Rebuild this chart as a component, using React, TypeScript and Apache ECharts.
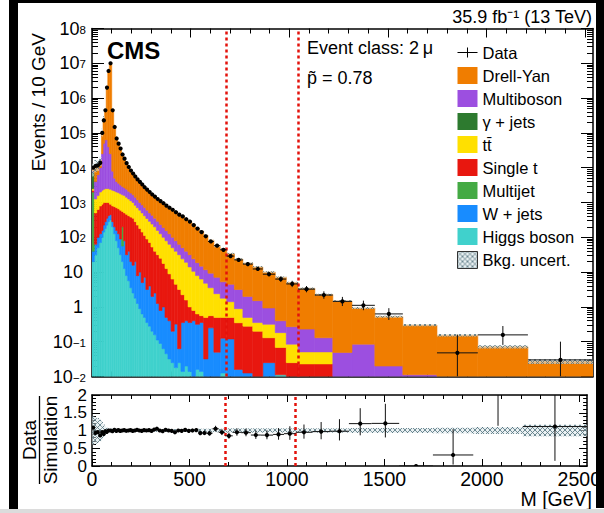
import React, { useEffect, useRef } from "react";
import * as echarts from "echarts";

const FONT = '"Liberation Sans", Arial, Helvetica, sans-serif';

// Bin edges in GeV
const binEdges = [0, 12, 24, 36, 48, 56, 64, 72, 80, 88, 100, 110, 120, 130, 140, 150, 160, 170, 181, 192, 203, 214, 225, 237, 249, 261, 273, 286, 299, 312, 326, 340, 355, 370, 385, 401, 417, 434, 451, 469, 487, 506, 525, 545, 566, 588, 618, 650, 683, 722, 765, 815, 866, 929, 985, 1045, 1130, 1221, 1318, 1434, 1576, 1749, 1956, 2210, 2540];

// Observed events / 10 GeV
const dataValues = [1.0e4, 1.12e4, 1.17e4, 1.38e4, 1.0e5, 2.29e5, 4.47e5, 2.0e6, 6.03e6, 1.0e7,
  4.47e5, 1.48e5, 6.92e4, 4.9e4, 3.55e4, 2.4e4, 1.82e4, 1.35e4, 1.05e4, 8.3e3,
  6.8e3, 5.6e3, 4.6e3, 3.9e3, 3.3e3, 2.75e3, 2.35e3, 2.0e3, 1.7e3, 1.48e3,
  1.26e3, 1.1e3, 955, 813, 708, 617, 525, 447, 398, 331,
  282, 224, 178, 141, 107, 75.9, 57.5, 43.7, 28.8, 22.4,
  17.0, 12.3, 8.7, 6.3, 4.57, 3.24, 2.19, 1.44, 1.11, 0.629,
  0, 0.0478, 0.157, 0.030];

// Stack levels (cumulative height reached by each process, bottom -> top)
const higgsTop = [20, 31.6, 50, 70.8, 100, 141, 178, 224, 282, 316,
  200, 126, 79.4, 50, 31.6, 20, 12.6, 7.94, 5.62, 3.55,
  2.51, 1.78, 1.26, 0.89, 0.63, 0.5, 0.355, 0.28, 0.2, 0.158,
  0.112, 0.089, 0.063, 0.045, 0.032, 0.025, 0.018, 0.025, 0.014, 0.02,
  0.014, 0, 0.016, 0.014, 0, 0, 0, 0.0126, 0, 0,
  0, 0, 0, 0.0112, 0, 0, 0, 0, 0, 0,
  0, 0, 0, 0];
const wJetsTop = [40, 63, 100, 126, 158, 224, 282, 355, 417, 447,
  282, 200, 158, 126, 89, 56, 79, 31.6, 39.8, 20,
  15.8, 20, 7.9, 10, 5.0, 7.1, 3.16, 4.0, 2.0, 2.5,
  1.26, 0.79, 1.0, 0.5, 0.4, 0.2, 0.32, 0.063, 0.355, 0.4,
  0.355, 0.4, 0.316, 0.355, 0.032, 0.25, 0.05, 0.126, 0.12, 0.016,
  0.0126, 0, 0.025, 0, 0, 0, 0, 0, 0, 0,
  0, 0, 0, 0];
const multijetTop = [2.0e3, 63, 100, 126, 158, 224, 282, 355, 417, 447,
  282, 200, 158, 126, 89, 200, 79, 31.6, 39.8, 20,
  15.8, 20, 7.9, 10, 5.0, 7.1, 3.16, 4.0, 2.0, 2.5,
  1.26, 0.79, 1.0, 0.5, 0.4, 0.2, 0.32, 0.063, 0.355, 0.4,
  0.355, 0.4, 0.316, 0.355, 0.032, 0.25, 0.05, 0.126, 0.12, 0.016,
  0.0126, 0, 0.025, 0, 0, 0, 0, 0, 0, 0,
  0, 0, 0, 0];
const singleTopTop = [2.2e3, 501, 631, 794, 891, 1000, 1000, 1000, 1000, 891,
  794, 759, 708, 661, 603, 550, 501, 457, 417, 380,
  355, 282, 224, 178, 141, 112, 89.1, 70.8, 52.5, 39.8,
  31.6, 25.1, 17.8, 12.6, 8.91, 6.31, 4.47, 3.16, 2.24, 1.58,
  1.0, 0.79, 0.63, 0.56, 0.5, 0.56, 0.5, 0.5, 0.5, 0.35,
  0.28, 0.2, 0.13, 0.068, 0.025, 0.023, 0.023, 0, 0, 0,
  0, 0, 0, 0];
const ttbarTop = [2.5e3, 1.26e3, 1.58e3, 2.0e3, 2.24e3, 2.4e3, 2.51e3, 2.51e3, 2.51e3, 2.4e3,
  2.24e3, 2.14e3, 2.0e3, 1.91e3, 1.78e3, 1.66e3, 1.58e3, 1.41e3, 1.26e3, 1.12e3,
  1.0e3, 832, 708, 603, 501, 417, 347, 288, 240, 200,
  158, 126, 100, 79.4, 63.1, 50.1, 39.8, 31.6, 24.0, 19.1,
  14.1, 10.5, 7.94, 6.31, 4.79, 3.55, 2.4, 1.78, 1.41, 0.89,
  0.5, 0.355, 0.316, 0.182, 0.085, 0.051, 0.051, 0, 0, 0,
  0, 0, 0, 0];
const gammaJetsTop = [7.5e3, 1.26e3, 1.58e3, 2.0e3, 2.24e3, 2.4e3, 2.51e3, 2.51e3, 2.51e3, 2.4e3,
  2.24e3, 2.14e3, 2.0e3, 1.91e3, 1.78e3, 1.66e3, 1.58e3, 1.41e3, 1.26e3, 1.12e3,
  1.0e3, 832, 708, 603, 501, 417, 347, 288, 240, 200,
  158, 126, 100, 79.4, 63.1, 50.1, 39.8, 31.6, 24.0, 19.1,
  14.1, 10.5, 7.94, 6.31, 4.79, 3.55, 2.4, 1.78, 1.41, 0.89,
  0.5, 0.355, 0.316, 0.182, 0.085, 0.051, 0.051, 0, 0, 0,
  0, 0, 0, 0];
const multibosonTop = [8.0e3, 3.98e3, 6.31e3, 1.0e4, 2.51e4, 5.01e4, 6.31e4, 6.31e4, 3.98e4, 2.51e4,
  7.94e3, 5.01e3, 3.98e3, 3.55e3, 3.16e3, 2.88e3, 2.63e3, 2.4e3, 2.09e3, 1.86e3,
  1.66e3, 1.41e3, 1.2e3, 1.0e3, 851, 724, 603, 501, 427, 355,
  288, 234, 191, 155, 126, 100, 79.4, 63.1, 50.1, 39.8,
  31.6, 24.0, 18.6, 14.8, 11.7, 9.33, 7.08, 5.25, 4.47, 3.16,
  2.0, 1.51, 0.93, 0.40, 0.27, 0.23, 0.13, 0.049, 0.085, 0.02,
  0.0112, 0, 0, 0];
const drellYanTop = [9.26e3, 1.2e4, 1.23e4, 1.6e4, 1.05e5, 2.54e5, 4.56e5, 2.08e6, 6.03e6, 1.0e7,
  4.56e5, 1.45e5, 6.99e4, 4.85e4, 3.59e4, 2.4e4, 1.8e4, 1.36e4, 1.05e4, 8.22e3,
  6.87e3, 5.6e3, 4.51e3, 3.9e3, 3.33e3, 2.72e3, 2.35e3, 1.98e3, 1.72e3, 1.44e3,
  1.2e3, 1.1e3, 974, 797, 708, 623, 553, 447, 402, 325,
  285, 224, 176, 152, 115, 82.5, 54.8, 46.0, 33.9, 23.6,
  18.1, 14.1, 10.0, 7.08, 5.02, 3.41, 2.26, 1.47, 0.93, 0.524,
  0.30, 0.154, 0.0714, 0.027];

// Relative background uncertainty per bin
const bkgRelUnc = [0.4, 0.38, 0.35, 0.3, 0.25, 0.18, 0.12, 0.08, 0.06, 0.05,
  0.06, 0.05, 0.04, 0.04, 0.04, 0.04, 0.04, 0.04, 0.04, 0.04,
  0.04, 0.04, 0.04, 0.04, 0.04, 0.04, 0.04, 0.04, 0.04, 0.04,
  0.04, 0.04, 0.04, 0.04, 0.04, 0.04, 0.04, 0.04, 0.04, 0.04,
  0.04, 0.04, 0.04, 0.05, 0.05, 0.05, 0.05, 0.05, 0.06, 0.06,
  0.06, 0.06, 0.06, 0.06, 0.06, 0.06, 0.06, 0.06, 0.07, 0.07,
  0.07, 0.08, 0.1, 0.16];

const roiEdges = [683, 1045];
const xMajorTicks = [0, 500, 1000, 1500, 2000, 2500];
const xMinorTicks = [100, 200, 300, 400, 600, 700, 800, 900, 1100, 1200, 1300, 1400, 1600, 1700, 1800, 1900, 2100, 2200, 2300, 2400];
const yMajorTicks = [1e-2, 1e-1, 1, 10, 100, 1e3, 1e4, 1e5, 1e6, 1e7, 1e8];
const yMinorTicks: number[] = [];
for (let e = -2; e < 8; e++) for (let k = 2; k <= 9; k++) yMinorTicks.push(k * Math.pow(10, e));

const processes = [
  { name: "Higgs boson", color: "#40d1cc", top: higgsTop },
  { name: "W + jets", color: "#188cff", top: wJetsTop },
  { name: "Multijet", color: "#44aa44", top: multijetTop },
  { name: "Single t", color: "#e8170f", top: singleTopTop },
  { name: "tt\u0304", color: "#ffe000", top: ttbarTop },
  { name: "\u03b3 + jets", color: "#2d7a2f", top: gammaJetsTop },
  { name: "Multiboson", color: "#9c4fe0", top: multibosonTop },
  { name: "Drell-Yan", color: "#f07d00", top: drellYanTop },
];

const XMAX = 2540;
const YMIN = 1e-2;

const garwoodUp = (n: number) => n + Math.sqrt(n + 0.75) + 1;
const garwoodLo = (n: number) => (n > 0.25 ? n - Math.sqrt(n - 0.25) : 0);

export default function App() {
  const ref = useRef<HTMLDivElement>(null);
  useEffect(() => {
    const chart = echarts.init(ref.current!, null, { renderer: "svg" });

    const cvs = document.createElement("canvas");
    cvs.width = 5;
    cvs.height = 5;
    const ctx = cvs.getContext("2d")!;
    ctx.fillStyle = "rgba(215,228,232,0.55)";
    ctx.fillRect(0, 0, 5, 5);
    ctx.strokeStyle = "rgba(90,120,130,0.95)";
    ctx.lineWidth = 0.9;
    ctx.beginPath();
    ctx.moveTo(0, 0); ctx.lineTo(5, 5);
    ctx.moveTo(5, 0); ctx.lineTo(0, 5);
    ctx.stroke();
    const hatch: any = { image: cvs, repeat: "repeat", imageWidth: 5, imageHeight: 5 };

    const nb = binEdges.length - 1;
    const idx = Array.from({ length: nb }, (_, i) => i);

    const levels: number[][] = [];
    processes.forEach((p, k) => {
      levels.push(p.top.map((v, i) => Math.max(v, k ? levels[k - 1][i] : 0)));
    });
    const total = levels[levels.length - 1];

    const rectRender = (fill: any, floor: number, stroke: string | null) => (params: any, api: any) => {
      const x0 = api.value(0), x1 = api.value(1);
      const lo = Math.max(api.value(2), floor), hi = api.value(3);
      if (!(hi > lo)) return null;
      const a = api.coord([x0, hi]);
      const b = api.coord([x1, lo]);
      return {
        type: "rect",
        shape: { x: a[0], y: a[1], width: b[0] - a[0], height: b[1] - a[1] },
        style: stroke ? { fill, stroke, lineWidth: 0.6 } : { fill, stroke: null },
      };
    };

    const pointRender = (floor: number) => (params: any, api: any) => {
      const x0 = api.value(0), x1 = api.value(1), v = api.value(2), lo = api.value(3), hi = api.value(4);
      if (!(v >= floor)) return null;
      const xm = (x0 + x1) / 2;
      const c = api.coord([xm, v]);
      const l = api.coord([x0, v]);
      const r = api.coord([x1, v]);
      const children: any[] = [
        { type: "line", shape: { x1: l[0], y1: c[1], x2: r[0], y2: c[1] }, style: { stroke: "#111", lineWidth: 1 } },
      ];
      if (hi > lo) {
        const t = api.coord([xm, hi]);
        const b = api.coord([xm, Math.max(lo, floor)]);
        children.push({ type: "line", shape: { x1: c[0], y1: t[1], x2: c[0], y2: b[1] }, style: { stroke: "#111", lineWidth: 1 } });
      }
      children.push({ type: "circle", shape: { cx: c[0], cy: c[1], r: 2.1 }, style: { fill: "#000" } });
      return { type: "group", children };
    };

    const stackSeries = processes.map((p, k) => ({
      type: "custom",
      name: p.name,
      xAxisIndex: 0,
      yAxisIndex: 0,
      clip: true,
      silent: true,
      z: 2,
      itemStyle: { color: p.color },
      encode: { x: [0, 1], y: [3] },
      data: idx.map((i) => [binEdges[i], binEdges[i + 1], k ? levels[k - 1][i] : 0, levels[k][i]]),
      renderItem: rectRender(p.color, YMIN, p.color),
    }));

    const bandMain = {
      type: "custom",
      name: "Bkg. uncert.",
      xAxisIndex: 0,
      yAxisIndex: 0,
      clip: true,
      silent: true,
      z: 3,
      itemStyle: { color: hatch, borderColor: "#444", borderWidth: 1 },
      encode: { x: [0, 1], y: [3] },
      data: idx.map((i) => [binEdges[i], binEdges[i + 1], total[i] * (1 - bkgRelUnc[i]), total[i] * (1 + bkgRelUnc[i])]),
      renderItem: rectRender(hatch, YMIN, null),
    };

    const mainRows = idx.map((i) => {
      const w = binEdges[i + 1] - binEdges[i];
      const v = dataValues[i];
      const n = (v * w) / 10;
      return [binEdges[i], binEdges[i + 1], v, (garwoodLo(n) * 10) / w, (garwoodUp(n) * 10) / w];
    });
    const ratioRows = idx.map((i) => {
      const row = mainRows[i];
      const t = total[i];
      if (dataValues[i] === 0) return [row[0], row[1], 0, 0, 0];
      return [row[0], row[1], row[2] / t, row[3] / t, row[4] / t];
    });

    const redLine = {
      silent: true,
      symbol: "none",
      label: { show: false },
      lineStyle: { color: "#e3120b", type: [3, 3], width: 2.5 },
      data: roiEdges.map((x) => ({ xAxis: x })),
    };

    const dataMain = {
      type: "custom",
      name: "Data",
      xAxisIndex: 0,
      yAxisIndex: 0,
      clip: true,
      silent: true,
      z: 5,
      itemStyle: { color: "#000" },
      encode: { x: [0, 1], y: [2] },
      data: mainRows.filter((r) => r[2] > 0),
      renderItem: pointRender(YMIN),
      markLine: redLine,
    };

    const bandRatio = {
      type: "custom",
      name: "ratioBand",
      xAxisIndex: 4,
      yAxisIndex: 4,
      clip: true,
      silent: true,
      z: 2,
      encode: { x: [0, 1], y: [3] },
      data: idx.map((i) => [binEdges[i], binEdges[i + 1], 1 - bkgRelUnc[i], 1 + bkgRelUnc[i]]),
      renderItem: rectRender(hatch, -10, null),
    };

    const dataRatio = {
      type: "custom",
      name: "ratio",
      xAxisIndex: 4,
      yAxisIndex: 4,
      clip: true,
      silent: true,
      z: 5,
      encode: { x: [0, 1], y: [2] },
      data: ratioRows,
      renderItem: pointRender(0),
      markLine: redLine,
    };

    const lineStyle = { color: "#000", width: 1.5 };
    const tickStyle = { color: "#000", width: 1 };

    const mkX = (grid: number, pos: string, ticks: number[], len: number, showLine: boolean, labels: boolean) => ({
      type: "value",
      gridIndex: grid,
      position: pos,
      min: 0,
      max: XMAX,
      axisLine: { show: showLine, onZero: false, lineStyle },
      axisTick: { show: true, inside: true, length: len, customValues: ticks, lineStyle: tickStyle },
      axisLabel: labels
        ? { show: true, customValues: ticks, fontSize: 19.5, fontFamily: FONT, color: "#000", margin: 3, formatter: (v: number) => String(v) }
        : { show: false },
      splitLine: { show: false },
    });

    const logFormatter = (v: number) => {
      const e = Math.round(Math.log10(v));
      if (e === 0) return "{p|1}";
      if (e === 1) return "{p|10}";
      return `{b|10}{s|${e < 0 ? "\u2212" + -e : e}}`;
    };

    const mkLogY = (pos: string, ticks: number[], len: number, showLine: boolean, labels: boolean) => ({
      type: "log",
      logBase: 10,
      gridIndex: 0,
      position: pos,
      min: YMIN,
      max: 1e8,
      axisLine: { show: showLine, onZero: false, lineStyle },
      axisTick: { show: true, inside: true, length: len, customValues: ticks, lineStyle: tickStyle },
      axisLabel: labels
        ? {
            show: true,
            customValues: ticks,
            formatter: logFormatter,
            margin: 6,
            color: "#000",
            rich: {
              p: { fontSize: 18, fontFamily: FONT, color: "#000", padding: [0, 3, 0, 0] },
              b: { fontSize: 18, lineHeight: 18, fontFamily: FONT, color: "#000", verticalAlign: "bottom" },
              s: { fontSize: 11.5, lineHeight: 12, fontFamily: FONT, color: "#000", verticalAlign: "top", padding: [4, 0, 10, 0] },
            },
          }
        : { show: false },
      splitLine: { show: false },
    });

    const mkRatioY = (pos: string, labels: boolean) => ({
      type: "value",
      gridIndex: 1,
      position: pos,
      min: 0,
      max: 2,
      interval: 0.5,
      axisLine: { show: true, onZero: false, lineStyle },
      axisTick: { show: true, inside: true, length: 8, lineStyle: tickStyle },
      minorTick: { show: true, splitNumber: 5, length: 4, lineStyle: tickStyle },
      axisLabel: labels
        ? { show: true, showMinLabel: true, showMaxLabel: true, hideOverlap: false, fontSize: 17, lineHeight: 17, fontFamily: FONT, color: "#000", margin: 5 }
        : { show: false },
      splitLine: { show: false },
      minorSplitLine: { show: false },
    });

    const option: any = {
      animation: false,
      backgroundColor: "#fff",
      grid: [
        { left: 92, top: 28.5, width: 501, height: 348 },
        { left: 92, top: 395, width: 501, height: 71 },
      ],
      xAxis: [
        mkX(0, "bottom", xMajorTicks, 9, true, false),
        mkX(0, "bottom", xMinorTicks, 5, false, false),
        mkX(0, "top", xMajorTicks, 9, true, false),
        mkX(0, "top", xMinorTicks, 5, false, false),
        mkX(1, "bottom", xMajorTicks, 7, true, true),
        mkX(1, "bottom", xMinorTicks, 4, false, false),
        mkX(1, "top", xMajorTicks, 7, true, false),
        mkX(1, "top", xMinorTicks, 4, false, false),
      ],
      yAxis: [
        mkLogY("left", yMajorTicks, 12, true, true),
        mkLogY("left", yMinorTicks, 6, false, false),
        mkLogY("right", yMajorTicks, 12, true, false),
        mkLogY("right", yMinorTicks, 6, false, false),
        mkRatioY("left", true),
        mkRatioY("right", false),
      ],
      legend: {
        left: 457,
        top: 44,
        padding: 0,
        orient: "vertical",
        itemWidth: 20,
        itemHeight: 17,
        itemGap: 6,
        selectedMode: false,
        icon: "rect",
        textStyle: { fontSize: 16.5, fontFamily: FONT, color: "#000" },
        data: [
          { name: "Data", icon: "path://M0,9.5H20V10.5H0Z M9.5,5H10.5V15H9.5Z", itemStyle: { color: "#000" } },
          "Drell-Yan",
          "Multiboson",
          "\u03b3 + jets",
          "tt\u0304",
          "Single t",
          "Multijet",
          "W + jets",
          "Higgs boson",
          { name: "Bkg. uncert.", itemStyle: { color: hatch, borderColor: "#333", borderWidth: 1 } },
        ],
      },
      series: [...stackSeries, bandMain, dataMain, bandRatio, dataRatio],
      graphic: [
        { type: "text", x: 107, y: 50, z: 50, style: { text: "CMS", fontSize: 24, fontWeight: "bold", fontFamily: FONT, fill: "#000", align: "left", verticalAlign: "middle" } },
        { type: "text", x: 307, y: 48, z: 50, style: { text: "Event class: 2\u2009\u03bc", fontSize: 18, fontFamily: FONT, fill: "#000", align: "left", verticalAlign: "middle" } },
        { type: "text", x: 307, y: 78, z: 50, style: { text: "p\u0303 = 0.78", fontSize: 18, fontFamily: FONT, fill: "#000", align: "left", verticalAlign: "middle" } },
        { type: "text", x: 592, y: 17, z: 50, style: { text: "35.9 fb\u207B\u00B9 (13 TeV)", fontSize: 18, fontFamily: FONT, fill: "#000", align: "right", verticalAlign: "middle" } },
        { type: "text", x: 38, y: 33, rotation: Math.PI / 2, z: 50, style: { text: "Events / 10 GeV", fontSize: 19, fontFamily: FONT, fill: "#000", align: "right", verticalAlign: "middle" } },
        { type: "text", x: 29, y: 440, rotation: Math.PI / 2, z: 50, style: { text: "Data", fontSize: 19, fontFamily: FONT, fill: "#000", align: "center", verticalAlign: "middle" } },
        { type: "line", z: 50, shape: { x1: 39.5, y1: 396, x2: 39.5, y2: 484 }, style: { stroke: "#000", lineWidth: 1.3 } },
        { type: "text", x: 50, y: 440, rotation: Math.PI / 2, z: 50, style: { text: "Simulation", fontSize: 19, fontFamily: FONT, fill: "#000", align: "center", verticalAlign: "middle" } },
        { type: "text", x: 592, y: 499, z: 50, style: { text: "M [GeV]", fontSize: 19.5, fontFamily: FONT, fill: "#000", align: "right", verticalAlign: "middle" } },
        { type: "rect", z: 100, shape: { x: 9, y: 0, width: 9, height: 510 }, style: { fill: "#000" } },
        { type: "rect", z: 100, shape: { x: 9, y: 0, width: 595, height: 3 }, style: { fill: "#000" } },
        { type: "rect", z: 100, shape: { x: 596, y: 0, width: 8, height: 508 }, style: { fill: "#000" } },
        { type: "rect", z: 100, shape: { x: 0, y: 509, width: 604, height: 4 }, style: { fill: "#dcdcdc" } },
      ],
    };

    chart.setOption(option);
    return () => chart.dispose();
  }, []);
  return <div ref={ref} style={{ position: "fixed", left: 0, top: 0, width: 604, height: 513, background: "#fff" }} />;
}
